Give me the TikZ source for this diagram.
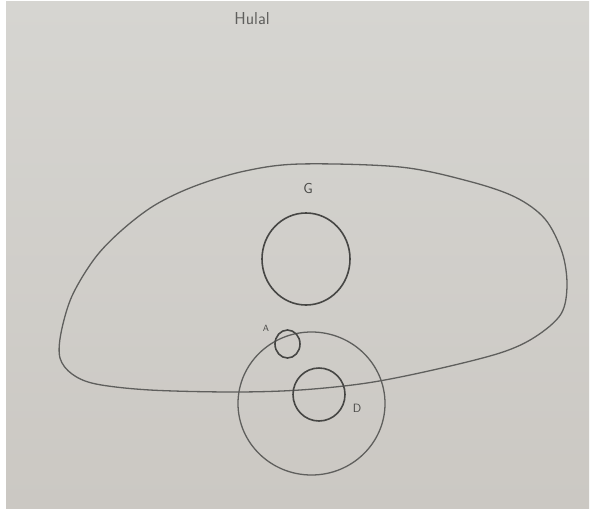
\documentclass[tikz,border=0pt]{standalone}
\usetikzlibrary{shapes.geometric}
\definecolor{paper}{RGB}{214,213,209}
\definecolor{paperdark}{RGB}{203,200,195}
\definecolor{pencil}{RGB}{95,95,93}
\definecolor{pencildark}{RGB}{70,70,68}
\tikzset{
  ring/.style={draw=pencildark, line width=1.6pt, ellipse, inner sep=0pt},
  lbl/.style={text=pencildark, font=\sffamily, inner sep=0pt}
}
\begin{document}
\begin{tikzpicture}[x=1pt,y=-1pt]
\useasboundingbox (0,0) rectangle (593,511);
\fill[white] (0,0) rectangle (593,511);
\shade[top color=paper, bottom color=paperdark] (6,2) rectangle (589,508);
% big blob
\draw[pencil, line width=1.3pt] plot[smooth cycle, tension=0.55] coordinates {
 (300,164) (400,167) (468,181) (515,197) (545,219) (562,252) (567,285) (561,314)
 (535,337) (500,353) (433,370) (367,383) (300,390) (233,392) (150,390)
 (96,384) (72,374) (60,358) (61,333) (72,296) (95,258) (122,230)
 (155,205) (195,186) (245,171)};
% circles
\node[ring, minimum width=88pt, minimum height=92pt] (G) at (306,259) {};
\node[ring, draw=pencil, line width=1.3pt, minimum width=147pt, minimum height=143pt] (O) at (311.5,403.5) {};
\node[ring, minimum width=52pt, minimum height=53pt] (D) at (319,394.5) {};
\node[ring, minimum width=25pt, minimum height=28pt] (A) at (287.5,344) {};
% labels
\node[lbl, font=\sffamily\Large] (Gl) at (308,189) {G};
\node[lbl, font=\sffamily\small] (Al) at (266,328) {A};
\node[lbl, font=\sffamily\large] (Dl) at (357,408) {D};
\node[lbl, text=pencil, font=\sffamily\LARGE] (T) at (252,19) {Hulal};
\end{tikzpicture}
\end{document}
